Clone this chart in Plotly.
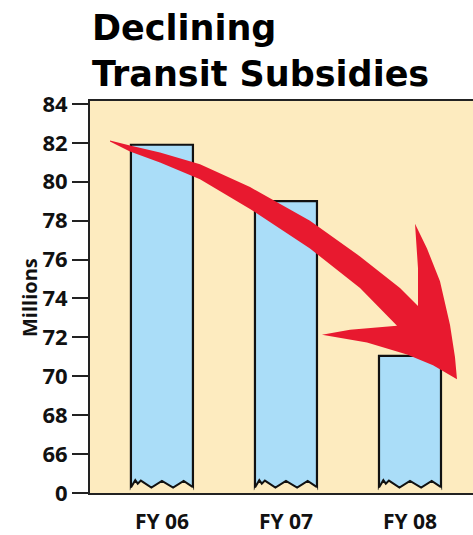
import plotly.graph_objects as go

categories = ["FY 06", "FY 07", "FY 08"]
values = [81.9, 79.0, 71.05]
tick_vals = [64, 66, 68, 70, 72, 74, 76, 78, 80, 82, 84]
tick_text = ["0", "66", "68", "70", "72", "74", "76", "78", "80", "82", "84"]

# body margin is removed (post_script), so the figure fills the window
W, H = 473, 535
PX_L, PX_T, PX_B, PX_R = 90, 101, 497, 473   # plot-area edges in window pixels
L, T, B, R = PX_L, PX_T, H - PX_B, W - PX_R
BG = "#FDEBBF"
BLUE = "#AADDF8"
RED = "#E8192F"
BASE = 64.2
BAR_W = 0.5

xpos = list(range(len(categories)))

fig = go.Figure()
fig.add_trace(go.Bar(
    x=xpos, y=[v - BASE for v in values], base=BASE, width=BAR_W,
    marker=dict(color=BLUE, line=dict(color="#111111", width=2.2)),
    hoverinfo="skip", showlegend=False,
))

# zigzag "break" at bottom of each bar
zz_f = [0.0, 0.07, 0.11, 0.16, 0.33, 0.5, 0.68, 0.85, 1.0]
zz_h = [64.28, 64.66, 64.48, 64.64, 64.28, 64.62, 64.28, 64.62, 64.3]
for c in xpos:
    x0 = c - BAR_W / 2
    xs = [x0 + f * BAR_W for f in zz_f]
    fig.add_trace(go.Scatter(
        x=xs + [x0 + BAR_W + 0.01, x0 - 0.01], y=zz_h + [64.05, 64.05],
        fill="toself", fillcolor=BG, mode="none",
        hoverinfo="skip", showlegend=False,
    ))
    fig.add_trace(go.Scatter(
        x=xs, y=zz_h, mode="lines", line=dict(color="#111111", width=2),
        hoverinfo="skip", showlegend=False,
    ))

pw = W - L - R
ph = H - T - B


def px2paper(px, py):
    return (px - PX_L) / pw, (PX_B - py) / ph


# decorative arrow (window-pixel outline converted to paper coords)
arrow_px = [
    (110, 141), (130, 146), (160, 153), (200, 165), (250, 188), (310, 222),
    (360, 258), (400, 290), (418, 308),
    (418, 270), (415, 225),
    (427, 250), (440, 283), (450, 327), (455, 360), (457, 382),
    (433, 368), (407, 357), (367, 345), (322, 337),
    (350, 332), (397, 328),
    (360, 290), (310, 250), (250, 210), (200, 180), (160, 163), (130, 152), (110, 142),
]
pts = [px2paper(px, py) for px, py in arrow_px]
path = "M " + " L ".join(f"{x:.4f},{y:.4f}" for x, y in pts) + " Z"
fig.add_shape(type="path", path=path, xref="paper", yref="paper",
              fillcolor=RED, line=dict(width=0), layer="above")

title_font = dict(family="DejaVu Sans", size=35, color="#000000", weight=700)
tx, ty = px2paper(90, 96)
mx, my = px2paper(30, 300)

fig.update_layout(
    width=W, height=H,
    margin=dict(l=L, r=R, t=T, b=B, pad=0),
    paper_bgcolor="white", plot_bgcolor=BG,
    showlegend=False,
    xaxis=dict(
        range=[-0.58, 2.508], tickvals=xpos, ticktext=categories,
        showgrid=False, zeroline=False,
        showline=True, linecolor="#222222", linewidth=2, mirror=True,
        ticks="", ticklabelstandoff=9,
        tickfont=dict(family="Open Sans", size=21, color="#111111", weight=700),
    ),
    yaxis=dict(
        range=[64, 84.15], tickvals=tick_vals, ticktext=tick_text,
        showgrid=False, zeroline=False,
        showline=True, linecolor="#222222", linewidth=2,
        ticks="outside", ticklen=16, tickwidth=2, tickcolor="#222222",
        tickfont=dict(family="Open Sans", size=22, color="#111111", weight=700),
    ),
    annotations=[
        dict(text="Declining<br>Transit Subsidies", xref="paper", yref="paper",
             x=tx, y=ty, xanchor="left", yanchor="bottom", align="left",
             showarrow=False, font=title_font),
        dict(text="Millions", xref="paper", yref="paper", x=mx, y=my,
             xanchor="center", yanchor="middle", textangle=-90, showarrow=False,
             font=dict(family="Open Sans", size=20, color="#111111", weight=700)),
    ],
)

fig.write_html(
    "out.html",
    config={"displayModeBar": False},
    post_script="document.body.style.margin='0px';document.body.style.overflow='hidden';",
)
